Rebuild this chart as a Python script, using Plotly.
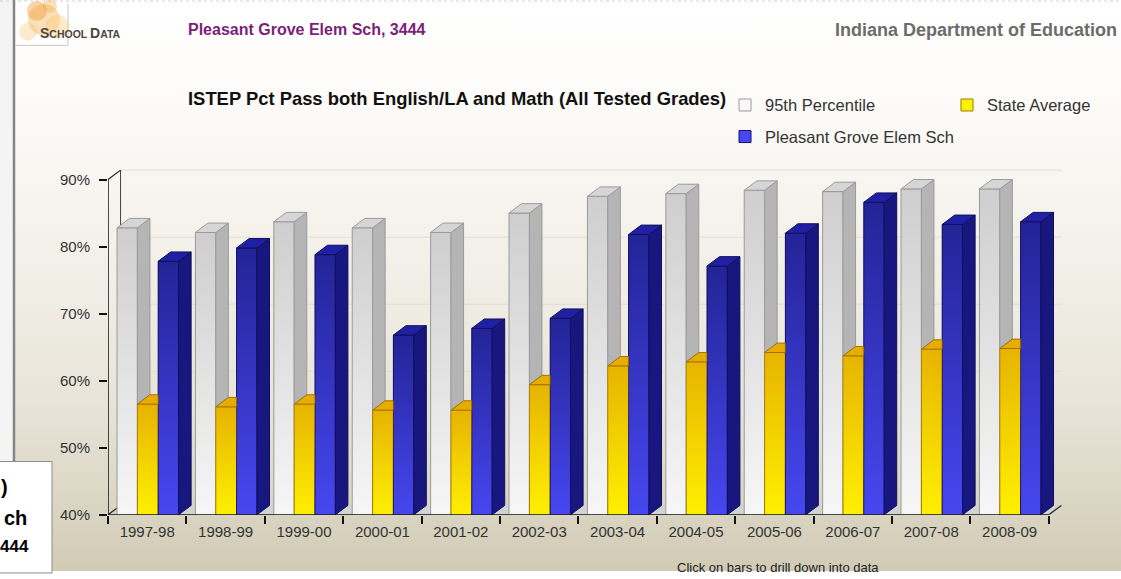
import plotly.graph_objects as go

# ---------------------------------------------------------------- data
seasons = ["1997-98", "1998-99", "1999-00", "2000-01", "2001-02", "2002-03",
           "2003-04", "2004-05", "2005-06", "2006-07", "2007-08", "2008-09"]
pct95 = [82.8, 82.1, 83.7, 82.8, 82.1, 85.0, 87.5, 87.9, 88.4, 88.2, 88.6, 88.6]
state_avg = [56.5, 56.1, 56.5, 55.6, 55.6, 59.4, 62.2, 62.8, 64.2, 63.7, 64.7, 64.8]
school = [77.8, 79.8, 78.8, 66.8, 67.8, 69.3, 81.8, 77.1, 82.0, 86.6, 83.3, 83.7]
y_ticks = [40, 50, 60, 70, 80, 90]
series_names = ["95th Percentile", "State Average", "Pleasant Grove Elem Sch"]

# ---------------------------------------------------------------- frame
W, H = 1121, 579
FONT = "Arial, 'Liberation Sans', sans-serif"
X_RANGE = [-0.5, 11.7]
Y_RANGE = [40, 91.8]
DX, DY = 0.16, 1.4          # depth of the extruded bars, in axis units
X_DOMAIN = [108 / W, 1064.5 / W]
Y_DOMAIN = [57 / H, (H - 169.8) / H]

# slot of each series inside a category: (offset from centre, width)
GRAY = (-0.385, 0.26)
YELLOW = (-0.125, 0.265)
BLUE = (0.14, 0.26)

pos = list(range(len(seasons)))
y0 = Y_RANGE[0]
x_first, x_last = -0.5, len(seasons) - 0.5


def px(x):
    return x / W


def py(y):
    return 1 - y / H


def polys(faces):
    xs, ys = [], []
    for pts in faces:
        xs += [p[0] for p in pts] + [pts[0][0], None]
        ys += [p[1] for p in pts] + [pts[0][1], None]
    return xs, ys


fig = go.Figure()

# page background gradient on a full-page helper subplot
fig.add_trace(go.Scatter(
    x=[0, 1, 1, 0, 0], y=[0, 0, 1, 1, 0], xaxis="x", yaxis="y",
    mode="lines", line=dict(width=0), fill="toself",
    fillgradient=dict(type="vertical", colorscale=[
        [0.0, "#d1cbb5"], [0.12, "#dbd6c4"], [0.3, "#e8e4d8"],
        [0.5, "#f1eee6"], [0.7, "#f8f6f1"], [0.85, "#fdfcfa"], [1.0, "#ffffff"]]),
    hoverinfo="skip", showlegend=False))


def front_bar(values, slot, color, line, name, legend):
    off, wid = slot
    return go.Bar(
        x=pos, y=values, offset=off, width=wid, xaxis="x2", yaxis="y2",
        marker=dict(color=color, line=dict(color=line, width=1)),
        name=name, legend=legend, customdata=seasons,
        hovertemplate="%{customdata}: %{y:.1f}%<extra>" + name + "</extra>")


fig.add_trace(front_bar(pct95, GRAY, "#f7f7f7", "#9a9a9a", series_names[0], "legend"))
fig.add_trace(front_bar(state_avg, YELLOW, "#fff200", "#a07800", series_names[1], "legend2"))
fig.add_trace(front_bar(school, BLUE, "#4747f2", "#12126a", series_names[2], "legend3"))


def shade(values, slot, tint):
    # vertical shading laid over each front face
    off, wid = slot
    clear = tint.rsplit(",", 1)[0] + ",0)"
    for c, v in zip(pos, values):
        xl, xr = c + off, c + off + wid
        fig.add_trace(go.Scatter(
            x=[xl, xr, xr, xl, xl], y=[y0, y0, v, v, y0], xaxis="x2", yaxis="y2",
            mode="lines", line=dict(width=0), fill="toself",
            fillgradient=dict(type="vertical", colorscale=[[0, clear], [1, tint]],
                              start=y0, stop=v),
            hoverinfo="skip", showlegend=False))


def faces(face_list, fill, line):
    xs, ys = polys(face_list)
    fig.add_trace(go.Scatter(
        x=xs, y=ys, xaxis="x2", yaxis="y2", mode="lines",
        line=dict(color=line, width=1), fill="toself", fillcolor=fill,
        hoverinfo="skip", showlegend=False))


# 95th percentile: shading, side above the state bar, top
shade(pct95, GRAY, "rgba(150,150,150,0.42)")
gray_side, gray_top = [], []
for c, g, s in zip(pos, pct95, state_avg):
    xl, xr = c + GRAY[0], c + GRAY[0] + GRAY[1]
    gray_side.append([(xr, s), (xr + DX, s + DY), (xr + DX, g + DY), (xr, g)])
    gray_top.append([(xl, g), (xr, g), (xr + DX, g + DY), (xl + DX, g + DY)])
faces(gray_side, "#b5b5b5", "#9a9a9a")
faces(gray_top, "#d6d6d6", "#9a9a9a")

# state average: shading and the part of the top not hidden by the school bar
shade(state_avg, YELLOW, "rgba(215,140,0,0.6)")
yel_top = []
for c, s in zip(pos, state_avg):
    xl, xr = c + YELLOW[0], c + YELLOW[0] + YELLOW[1]
    yel_top.append([(xl, s), (xr, s), (xr, s + DY), (xl + DX, s + DY)])
faces(yel_top, "#e8ac00", "#9c7400")

# school: shading, side, top
shade(school, BLUE, "rgba(0,0,60,0.5)")
blue_side, blue_top = [], []
for c, b in zip(pos, school):
    xl, xr = c + BLUE[0], c + BLUE[0] + BLUE[1]
    blue_side.append([(xr, y0), (xr + DX, y0 + DY), (xr + DX, b + DY), (xr, b)])
    blue_top.append([(xl, b), (xr, b), (xr + DX, b + DY), (xl + DX, b + DY)])
faces(blue_side, "#17177f", "#10105a")
faces(blue_top, "#2020a4", "#10105a")

# ---------------------------------------------------------------- 3D frame
shapes = []
ax2 = dict(xref="x2", yref="y2")
# floor
shapes.append(dict(type="path", layer="below", line=dict(width=0), fillcolor="#d2d2d2",
                   path=f"M{x_first},{y0} L{x_last},{y0} L{x_last + DX},{y0 + DY} "
                        f"L{x_first + DX},{y0 + DY} Z", **ax2))
# back-wall gridlines
for v in y_ticks[1:]:
    shapes.append(dict(type="line", layer="below", x0=x_first + DX, x1=x_last + DX,
                       y0=v + DY, y1=v + DY, line=dict(color="#e2ded2", width=1), **ax2))
# back-wall edge and depth diagonals
shapes.append(dict(type="line", layer="below", x0=x_first + DX, x1=x_first + DX,
                   y0=y0 + DY, y1=y_ticks[-1] + DY, line=dict(color="#444", width=1), **ax2))
for (xa, ya) in [(x_first, y_ticks[-1]), (x_first, y0), (x_last, y0)]:
    shapes.append(dict(type="line", layer="below", x0=xa, x1=xa + DX, y0=ya, y1=ya + DY,
                       line=dict(color="#222", width=1.2), **ax2))
# front axis lines
shapes.append(dict(type="line", layer="above", x0=x_first, x1=x_first, y0=y0,
                   y1=y_ticks[-1], line=dict(color="#111", width=1.5), **ax2))
shapes.append(dict(type="line", layer="above", x0=x_first, x1=x_last, y0=y0, y1=y0,
                   line=dict(color="#111", width=1.5), **ax2))

# ---------------------------------------------------------------- page furniture
pp = dict(xref="paper", yref="paper", layer="above")
shapes.append(dict(type="rect", x0=0, x1=px(13), y0=py(470), y1=1, fillcolor="#f4f4f4",
                   line=dict(width=0), **pp))
shapes.append(dict(type="line", x0=px(0), x1=1, y0=py(1), y1=py(1),
                   line=dict(color="#d0d0d0", width=1, dash="dot"), **pp))
shapes.append(dict(type="line", x0=px(14), x1=px(14), y0=py(468), y1=1,
                   line=dict(color="#858585", width=2.5), **pp))
# logo splash
for cx, cy, r, col in [(44, 20, 16, "rgba(245,178,80,0.40)"),
                       (37, 11, 10, "rgba(238,150,40,0.40)"),
                       (57, 27, 12, "rgba(250,205,120,0.40)"),
                       (28, 32, 9, "rgba(248,196,110,0.32)"),
                       (50, 6, 7, "rgba(240,165,60,0.35)")]:
    shapes.append(dict(type="circle", x0=px(cx - r), x1=px(cx + r), y0=py(cy + r),
                       y1=py(cy - r), fillcolor=col, line=dict(width=0), **pp))
shapes.append(dict(type="line", x0=px(68), x1=px(68), y0=py(46), y1=py(4),
                   line=dict(color="#c8c8c8", width=1), **pp))
shapes.append(dict(type="line", x0=px(15), x1=px(68), y0=py(46), y1=py(46),
                   line=dict(color="#c8c8c8", width=1), **pp))
# overlapping panel at the bottom left
shapes.append(dict(type="rect", x0=px(-2), x1=px(52), y0=py(581), y1=py(468),
                   fillcolor="#ffffff", line=dict(color="#8a8a8a", width=1), **pp))


def note(x, y, text, size, color, anchor="left"):
    return dict(x=px(x), y=py(y), xanchor=anchor, yanchor="middle", showarrow=False,
                text=text, font=dict(family=FONT, size=size, color=color),
                xref="paper", yref="paper")


annotations = [
    note(38, 33, "<b><span style='font-size:14px'>S</span>CHOOL "
                 "<span style='font-size:14px'>D</span>ATA</b>", 10.5, "#4d4540"),
    note(186, 30, "<b>Pleasant Grove Elem Sch, 3444</b>", 16, "#7b1f7b"),
    note(833, 30, "<b>Indiana Department of Education</b>", 18, "#6b6b6b"),
    note(186, 100, "<b>ISTEP Pct Pass both English/LA and Math (All Tested Grades)</b>",
         18.4, "#111"),
    note(675, 575, "Click on bars to drill down into data", 13, "#222"),
    note(10, 494, "<b>)</b>", 20, "#000", "right"),
    note(29, 525, "<b>ch</b>", 20, "#000", "right"),
    note(31, 554, "<b>444</b>", 17, "#000", "right"),
]

leg_common = dict(xanchor="left", yanchor="top", bgcolor="rgba(0,0,0,0)",
                  font=dict(family=FONT, size=16.5, color="#333"))

fig.update_layout(
    width=W, height=H, margin=dict(l=0, r=0, t=0, b=0),
    paper_bgcolor="#ffffff", plot_bgcolor="rgba(0,0,0,0)",
    barmode="overlay",
    xaxis=dict(domain=[0, 1], range=[0, 1], visible=False, fixedrange=True),
    yaxis=dict(domain=[0, 1], range=[0, 1], visible=False, fixedrange=True),
    xaxis2=dict(domain=X_DOMAIN, range=X_RANGE, anchor="y2", showgrid=False,
                zeroline=False, showline=False, ticks="", tickvals=pos, ticktext=seasons,
                ticklabelstandoff=6,
                tickfont=dict(family=FONT, size=15, color="#333"),
                minor=dict(tickmode="array", tickvals=[p - 0.5 for p in pos] + [x_last],
                           ticks="outside", ticklen=8, tickwidth=1.5, tickcolor="#111",
                           showgrid=False),
                fixedrange=True),
    yaxis2=dict(domain=Y_DOMAIN, range=Y_RANGE, anchor="x2", showgrid=False,
                zeroline=False, showline=False, tickvals=y_ticks,
                ticktext=[f"{v}%" for v in y_ticks], ticks="outside", ticklen=8,
                tickwidth=1.5, tickcolor="#111", ticklabelstandoff=6,
                tickfont=dict(family=FONT, size=15, color="#333"), fixedrange=True),
    shapes=shapes, annotations=annotations,
    legend=dict(x=px(725), y=py(89), **leg_common),
    legend2=dict(x=px(947), y=py(89), **leg_common),
    legend3=dict(x=px(725), y=py(121), **leg_common),
)

fig.write_html("out.html")
